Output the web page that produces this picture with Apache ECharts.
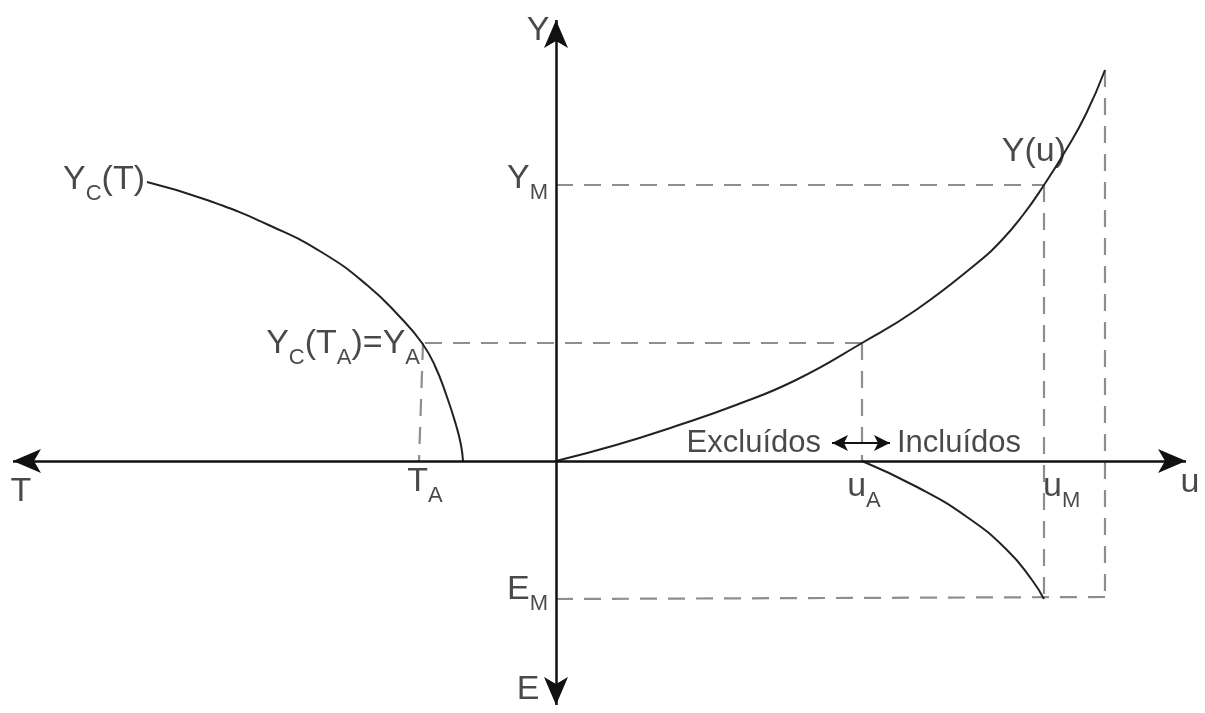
<!DOCTYPE html>
<html>
<head>
<meta charset="utf-8">
<script src="https://cdn.jsdelivr.net/npm/echarts@6/dist/echarts.min.js"></script>
<style>
  html, body { margin: 0; padding: 0; background: #fff; }
  #chart { width: 1205px; height: 713px; }
</style>
</head>
<body>
<div id="chart"></div>
<script>
// Key abscissas / ordinates of the diagram (arbitrary units)
const T_A = -136, U_A = 306, U_M = 488, U_END = 549;
const Y_A = 118, Y_M = 276, Y_END = 391, E_M = -138;

// Y_C(T): left quadrant, T grows to the left
const ycCurve = [
  [-409, 279], [-349, 261], [-283, 234], [-233, 208], [-189, 176],
  [-156, 144], [-134, 118], [-121, 95], [-109, 64], [-100, 36],
  [-95, 16], [-93, 0]
];
// Y(u): right quadrant, rising curve
const yuCurve = [
  [0, 0], [60, 16], [120, 35], [180, 56], [240, 81], [306, 118],
  [360, 151], [420, 197], [445, 220], [467, 246], [488, 276],
  [510, 311], [530, 347], [549, 391]
];
// E(u): lower quadrant, from u_A down to E_M
const euCurve = [
  [306, 0], [361, -26], [411, -56], [451, -89], [476, -119], [488, -138]
];

// Dashed guide segments
const guides = [
  [[0, Y_M], [U_M, Y_M]],
  [[-131, Y_A], [U_A, Y_A]],
  [[-133, Y_A], [-137, 0]],
  [[U_A, Y_A], [U_A, 0]],
  [[U_M, Y_M], [U_M, E_M]],
  [[U_END, Y_END], [U_END, -136]],
  [[0, E_M], [U_END, -136]]
];

// Text labels: [x, y, rich text, placement]
const labels = [
  [-18, 430, '{c|Y}', 'inside'],
  [-28, -229, '{c|E}', 'inside'],
  [-535, -31, '{c|T}', 'inside'],
  [634, -22, '{c|u}', 'inside'],
  [-411, 277, '{b|Y}{s|C}{b|(T)}', 'left'],
  [-8, 278, '{b|Y}{s|M}', 'left'],
  [-136, 113, '{b|Y}{s|C}{b|(T}{s|A}{b|)=Y}{s|A}', 'left'],
  [-131, -25, '{b|T}{s|A}', 'inside'],
  [-8, -133, '{b|E}{s|M}', 'left'],
  [308, -30, '{b|u}{s|A}', 'inside'],
  [487, -30, '{b|u}{s|M}', 'right'],
  [510, 309, '{c|Y(u)}', 'left'],
  [265, 18, '{w|Excluídos}', 'left'],
  [341, 18, '{w|Incluídos}', 'right']
];

const FONT = '"Liberation Sans", Arial, sans-serif';
const INK = '#1c1c1c';
const richStyles = {
  b: { fontSize: 34, fontFamily: FONT, color: INK, padding: [0, 0, 8, 0], verticalAlign: 'bottom' },
  s: { fontSize: 22, fontFamily: FONT, color: INK, verticalAlign: 'bottom' },
  c: { fontSize: 34, fontFamily: FONT, color: INK },
  w: { fontSize: 31, fontFamily: FONT, color: INK }
};

function curveSeries(data) {
  return {
    type: 'line', data: data, smooth: 0.5,
    showSymbol: false, silent: true,
    lineStyle: { color: '#222', width: 2 }
  };
}

const guideSeries = guides.map(seg => ({
  type: 'line', data: seg, showSymbol: false, silent: true,
  lineStyle: { color: '#8e8e8e', width: 2.2, type: [17, 11] }
}));

const arrowSeries = {
  type: 'line', data: [], silent: true,
  markLine: {
    silent: true,
    symbol: ['arrow', 'arrow'],
    symbolSize: [18, 28],
    label: { show: false },
    lineStyle: { color: '#111', width: 2.5, type: 'solid' },
    emphasis: { disabled: true },
    data: [
      // horizontal axis: T to the left, u to the right
      [{ coord: [-543, 0] }, { coord: [630, 0] }],
      // vertical axis: Y up, E down
      [{ coord: [0, 441] }, { coord: [0, -244] }],
      // double arrow between Excluídos / Incluídos
      [{ coord: [276, 18], symbolSize: [12, 16], lineStyle: { width: 2 } },
       { coord: [334, 18], symbolSize: [12, 16] }]
    ]
  }
};

const labelSeries = {
  type: 'scatter', symbolSize: 0, silent: true,
  data: labels.map(l => ({
    value: [l[0], l[1]],
    label: {
      show: true, position: l[3], distance: 0,
      formatter: l[2], rich: richStyles
    }
  }))
};

const chart = echarts.init(document.getElementById('chart'));
chart.setOption({
  animation: false,
  backgroundColor: '#fff',
  grid: { left: 0, right: 0, top: 0, bottom: 0 },
  xAxis: { type: 'value', min: -556, max: 649, show: false },
  yAxis: { type: 'value', min: -252, max: 461, show: false },
  series: [
    ...guideSeries,
    curveSeries(ycCurve),
    curveSeries(yuCurve),
    curveSeries(euCurve),
    arrowSeries,
    labelSeries
  ]
});
</script>
</body>
</html>
